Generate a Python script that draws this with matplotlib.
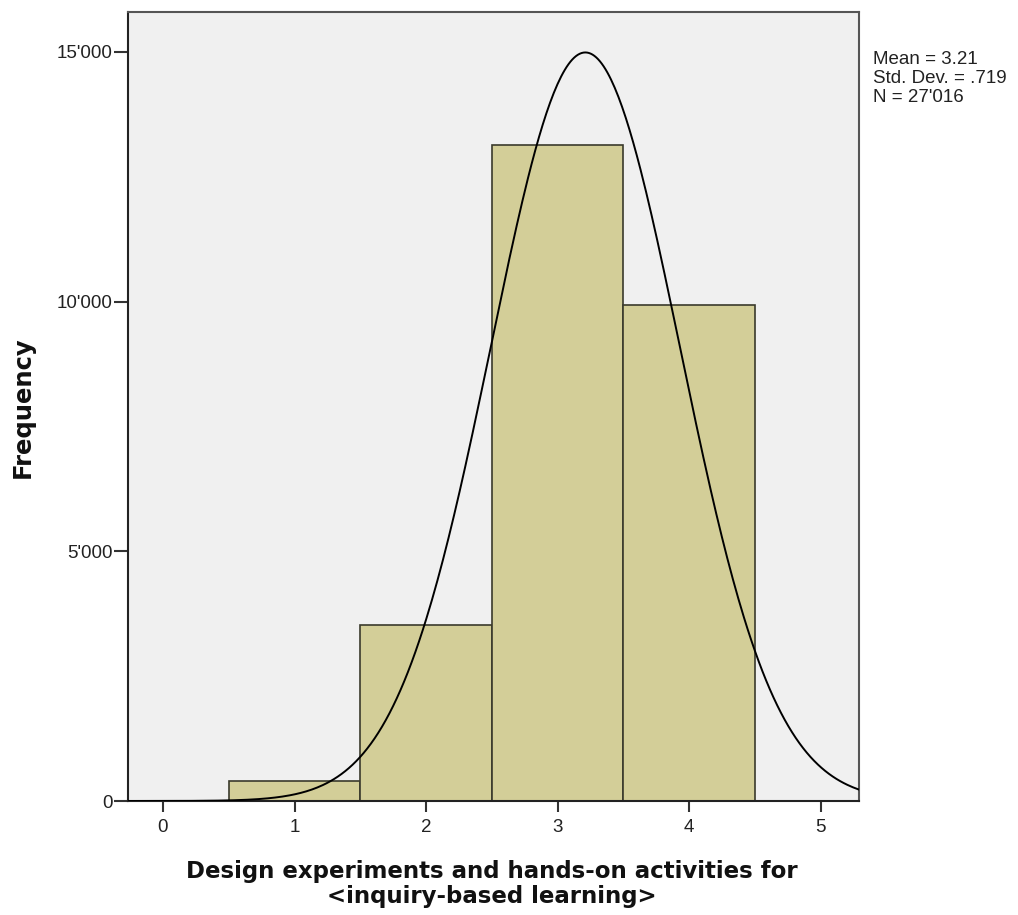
import numpy as np
import matplotlib
matplotlib.use("Agg")
import matplotlib.pyplot as plt
from matplotlib.ticker import FuncFormatter

# response categories and their counts
categories = [1, 2, 3, 4]
counts = [400, 3525, 13135, 9935]

# summary stats printed next to the chart
mean = 3.21
std_dev = 0.719
n_total = 27016

x_ticks = [0, 1, 2, 3, 4, 5]
y_ticks = [0, 5000, 10000, 15000]

plt.rcParams["font.family"] = ["Liberation Sans", "DejaVu Sans"]

W, H = 1018, 915
fig = plt.figure(figsize=(W / 100, H / 100), dpi=100)
ax = fig.add_axes([128 / W, 1 - 801 / H, (859 - 128) / W, (801 - 12) / H])
ax.set_facecolor("#F0F0F0")

ax.bar(categories, counts, width=1.0, color="#D3CE98",
       edgecolor="#3A3A2C", linewidth=1.2, zorder=2)

# normal curve scaled to counts (bin width 1)
xs = np.linspace(-0.3, 5.3, 400)
ys = n_total / (std_dev * np.sqrt(2 * np.pi)) * np.exp(-0.5 * ((xs - mean) / std_dev) ** 2)
ax.plot(xs, ys, color="black", linewidth=1.4, zorder=3)

ax.set_xlim(-0.266, 5.29)
ax.set_ylim(0, 15800)
ax.set_xticks(x_ticks)
ax.set_yticks(y_ticks)
ax.yaxis.set_major_formatter(FuncFormatter(lambda v, _: f"{int(v):,}".replace(",", "'")))
ax.tick_params(axis="both", direction="out", width=1.5,
               color="#333333", labelsize=13.5, labelcolor="#222222")
ax.tick_params(axis="x", length=8, pad=5)
ax.tick_params(axis="y", length=10, pad=1)

for side in ["left", "bottom"]:
    ax.spines[side].set_color("#222222")
    ax.spines[side].set_linewidth(1.5)
for side in ["top", "right"]:
    ax.spines[side].set_color("#555555")
    ax.spines[side].set_linewidth(1.5)

label_font = dict(family="DejaVu Sans", fontweight="bold", color="#111111")
fig.text(23 / W, 1 - 407 / H, "Frequency", rotation=90, ha="center", va="center",
         fontsize=17.5, **label_font)
fig.text(492 / W, 1 - 860 / H,
         "Design experiments and hands-on activities for\n<inquiry-based learning>",
         ha="center", va="top", linespacing=1.1, fontsize=16.5, **label_font)

fig.text(873 / W, 1 - 51 / H,
         f"Mean = {mean:.2f}\nStd. Dev. = {str(std_dev)[1:]}\nN = {n_total:,}".replace(",", "'"),
         fontsize=13.5, va="top", ha="left", color="#222222", linespacing=1.15)

fig.savefig("out.png", dpi=100, facecolor="white")
